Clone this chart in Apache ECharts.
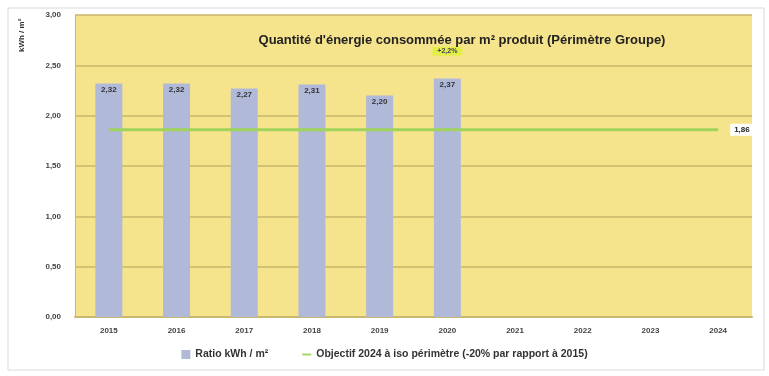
<!DOCTYPE html>
<html><head><meta charset="utf-8">
<script src="https://cdn.jsdelivr.net/npm/echarts@6/dist/echarts.min.js"></script>
<style>html,body{margin:0;padding:0;background:#fff}#c{width:769px;height:376px}</style>
</head><body><div id="c"></div>
<script>
const categories = ['2015','2016','2017','2018','2019','2020','2021','2022','2023','2024'];
const ratioValues = [2.32, 2.32, 2.27, 2.31, 2.20, 2.37, null, null, null, null];
const objectiveValues = [1.86, 1.86, 1.86, 1.86, 1.86, 1.86, 1.86, 1.86, 1.86, 1.86];
const annotationText = '+2,2%';
const fmt = v => v.toFixed(2).replace('.', ',');

const chart = echarts.init(document.getElementById('c'));
chart.setOption({
  animation: false,
  graphic: [
    {type:'rect', shape:{x:8,y:8,width:756,height:362}, style:{fill:'none', stroke:'#d9d9d9', lineWidth:1}, silent:true},
    {type:'text', x:18, y:52, rotation: Math.PI/2, style:{text:'kWh / m²', fontFamily:'Liberation Sans', fontSize:8, fontWeight:'bold', fill:'#333'}}
  ],
  title: {
    text: "Quantité d'énergie consommée par m² produit (Périmètre Groupe)",
    left: 457, top: 29, textAlign: 'center',
    textStyle: {fontFamily:'Liberation Sans', fontSize: 13, fontWeight: 'bold', color:'#222'}
  },
  grid: {left: 75, right: 17, top: 15, bottom: 59, backgroundColor: '#f6e48c', show: true, borderWidth: 0},
  legend: {
    bottom: 11, left: 'center', itemGap: 34, itemWidth: 9, itemHeight: 9,
    textStyle: {fontFamily:'Liberation Sans', fontSize: 10.5, fontWeight:'bold', color:'#333'},
    data: [
      {name: 'Ratio kWh / m²', icon: 'rect'},
      {name: 'Objectif 2024 à iso périmètre (-20% par rapport à 2015)', icon: 'path://M0,4H10V6H0Z'}
    ]
  },
  xAxis: {
    type: 'category', data: categories,
    axisLine: {lineStyle: {color: '#c8b76c', width: 2}},
    axisTick: {show: false},
    axisLabel: {fontFamily:'Liberation Sans', fontSize: 8, fontWeight:'bold', color:'#444', margin: 10}
  },
  yAxis: {
    type: 'value', min: 0, max: 3, interval: 0.5,
    axisLine: {show: true, lineStyle: {color: '#c8b76c'}},
    axisLabel: {fontFamily:'Liberation Sans', fontSize: 8, fontWeight:'bold', color:'#444', margin: 14, formatter: v => fmt(v)},
    splitLine: {lineStyle: {color: '#c8b76c', width: 1.5}}
  },
  series: [
    {
      name: 'Ratio kWh / m²', type: 'bar', data: ratioValues, barWidth: 27,
      itemStyle: {color: '#b1b9d9'},
      label: {show: true, position: 'insideTop', offset:[0,-3], formatter: p => fmt(p.value),
        fontFamily:'Liberation Sans', fontSize: 8, fontWeight:'bold', color:'#333'},
      markPoint: {
        symbol: 'rect', symbolSize: [30, 9], itemStyle: {color: '#e4ee4a'},
        label: {show: true, formatter: annotationText, fontSize: 7, fontWeight:'bold', color:'#445', fontFamily:'Liberation Sans'},
        data: [{coord: [5, 2.64]}]
      }
    },
    {
      name: 'Objectif 2024 à iso périmètre (-20% par rapport à 2015)', type: 'line', data: objectiveValues,
      symbol: 'none', lineStyle: {color: '#9fd35c', width: 3}, itemStyle: {color: '#9fd35c'},
      endLabel: {show: true, formatter: p => fmt(p.value), backgroundColor: '#fff', padding: [2,4],
        fontFamily:'Liberation Sans', fontSize: 8, fontWeight:'bold', color:'#222', distance: 12}
    }
  ]
});
</script></body></html>
